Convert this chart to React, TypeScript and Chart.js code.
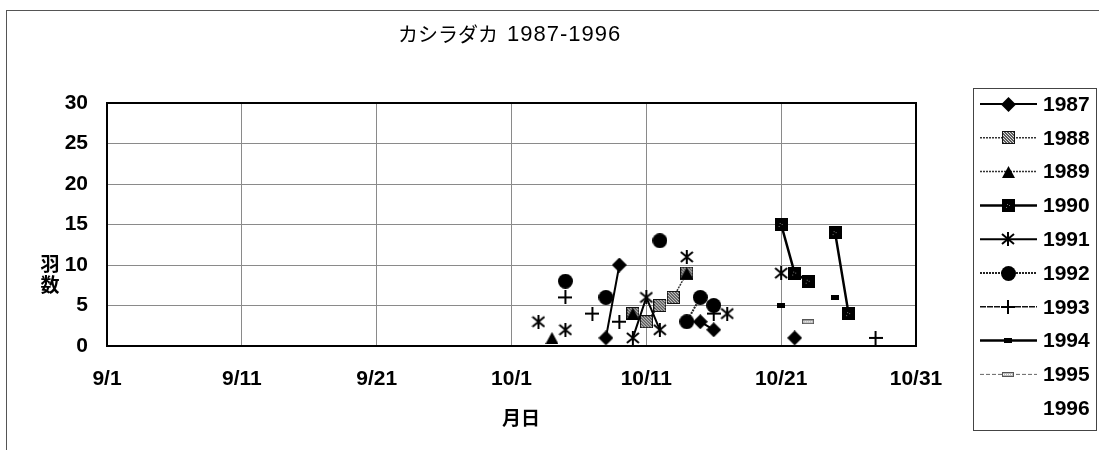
import React, { useEffect, useRef } from 'react';
import { Chart, registerables } from 'chart.js';

Chart.register(...registerables);

// ---------- data ----------
const chartTitleJa = 'カシラダカ';
const chartTitleYears = '1987-1996';
const xAxisTitle = '月日';
const yAxisTitleChars = ['羽', '数'];
const tickLabels = ['9/1', '9/11', '9/21', '10/1', '10/11', '10/21', '10/31'];
const seriesNames = ['1987', '1988', '1989', '1990', '1991', '1992', '1993', '1994', '1995', '1996'];

const dates1987 = ['10/8', '10/9', '10/15', '10/16', '10/22'];
const counts1987 = [1, 10, 3, 2, 1];
const dates1988 = ['10/10', '10/11', '10/12', '10/13', '10/14'];
const counts1988 = [4, 3, 5, 6, 9];
const dates1989 = ['10/4', '10/10', '10/14'];
const counts1989 = [1, 4, 9];
const dates1990 = ['10/21', '10/22', '10/23', '10/25', '10/26'];
const counts1990 = [15, 9, 8, 14, 4];
const dates1991 = ['10/3', '10/5', '10/10', '10/11', '10/12', '10/14', '10/17', '10/21'];
const counts1991 = [3, 2, 1, 6, 2, 11, 4, 9];
const dates1992 = ['10/5', '10/8', '10/12', '10/14', '10/15', '10/16'];
const counts1992 = [8, 6, 13, 3, 6, 5];
const dates1993 = ['10/5', '10/7', '10/9', '10/16', '10/28'];
const counts1993 = [6, 4, 3, 4, 1];
const dates1994 = ['10/21', '10/25'];
const counts1994 = [5, 6];
const dates1995 = ['10/23'];
const counts1995 = [3];
const dates1996: string[] = [];
const counts1996: number[] = [];

const allDates = [dates1987, dates1988, dates1989, dates1990, dates1991, dates1992, dates1993, dates1994, dates1995, dates1996];
const allCounts = [counts1987, counts1988, counts1989, counts1990, counts1991, counts1992, counts1993, counts1994, counts1995, counts1996];

// ---------- helpers ----------
function dayIndex(s: string): number {
  const [m, d] = s.split('/').map(Number);
  return m === 9 ? d - 1 : 30 + d - 1;
}

function buildPoints(dates: string[], counts: number[]) {
  const pts: { x: number; y: number | null }[] = [];
  for (let i = 0; i < dates.length; i++) {
    const x = dayIndex(dates[i]);
    pts.push({ x, y: counts[i] });
    if (i < dates.length - 1 && dayIndex(dates[i + 1]) !== x + 1) {
      pts.push({ x: x + 0.5, y: null });
    }
  }
  return pts;
}

function mk(w: number, h: number, draw: (c: CanvasRenderingContext2D) => void) {
  const c = document.createElement('canvas');
  c.width = w;
  c.height = h;
  const ctx = c.getContext('2d')!;
  draw(ctx);
  return c;
}

function makeMarkers() {
  const diamond = mk(15, 15, (c) => {
    c.fillStyle = '#000';
    c.beginPath();
    c.moveTo(7.5, 0); c.lineTo(15, 7.5); c.lineTo(7.5, 15); c.lineTo(0, 7.5);
    c.closePath(); c.fill();
  });
  const sq88 = mk(13, 13, (c) => {
    c.fillStyle = '#111'; c.fillRect(0, 0, 13, 13);
    c.fillStyle = '#5a5a5a'; c.fillRect(1, 1, 11, 11);
    c.fillStyle = '#e0e0e0';
    for (let y = 1; y < 12; y++) for (let x = 1; x < 12; x++) if ((x + 2 * y) % 3 === 0) c.fillRect(x, y, 1, 1);
  });
  const tri = mk(13, 12, (c) => {
    c.fillStyle = '#000';
    c.beginPath(); c.moveTo(6.5, 0); c.lineTo(13, 12); c.lineTo(0, 12); c.closePath(); c.fill();
  });
  const sq90 = mk(13, 13, (c) => {
    c.fillStyle = '#000'; c.fillRect(0, 0, 13, 13);
    c.fillStyle = '#777';
    c.fillRect(5, 5, 1, 1); c.fillRect(7, 6, 1, 1); c.fillRect(4, 8, 1, 1);
  });
  const ast = mk(14, 14, (c) => {
    c.strokeStyle = '#000'; c.lineWidth = 2;
    c.beginPath();
    c.moveTo(1, 2); c.lineTo(13, 12);
    c.moveTo(13, 2); c.lineTo(1, 12);
    c.moveTo(7, 0); c.lineTo(7, 14);
    c.stroke();
  });
  const circ = mk(15, 15, (c) => {
    c.fillStyle = '#000'; c.beginPath(); c.arc(7.5, 7.5, 7.5, 0, Math.PI * 2); c.fill();
  });
  const plus = mk(14, 14, (c) => {
    c.strokeStyle = '#000'; c.lineWidth = 2;
    c.beginPath(); c.moveTo(0, 7); c.lineTo(14, 7); c.moveTo(7, 0); c.lineTo(7, 14); c.stroke();
  });
  const dash94 = mk(8, 5, (c) => {
    c.fillStyle = '#000'; c.fillRect(0, 0, 8, 5);
  });
  const dash95 = mk(12, 5, (c) => {
    c.fillStyle = '#555'; c.fillRect(0, 0, 12, 5);
    c.fillStyle = '#bbb'; c.fillRect(1, 1, 10, 3);
    c.fillStyle = '#fff';
    for (let x = 1; x < 11; x += 2) c.fillRect(x, 2, 1, 1);
  });
  const none = mk(1, 1, () => {});
  return [diamond, sq88, tri, sq90, ast, circ, plus, dash94, dash95, none];
}

const lineStyles = [
  { color: '#000', width: 2, dash: [] as number[] },
  { color: '#333', width: 1.5, dash: [2, 1] },
  { color: '#333', width: 1.5, dash: [2, 1] },
  { color: '#000', width: 2.5, dash: [] as number[] },
  { color: '#000', width: 2, dash: [] as number[] },
  { color: '#222', width: 2, dash: [2, 1] },
  { color: '#111', width: 1.5, dash: [6, 1] },
  { color: '#000', width: 2.5, dash: [] as number[] },
  { color: '#666', width: 1, dash: [4, 2] },
  { color: 'rgba(0,0,0,0)', width: 0, dash: [] as number[] },
];

const NUM_FONT = '"Liberation Sans", Arial, sans-serif';
const JA_FONT = '"Noto Sans CJK JP", sans-serif';
const PLOT = { left: 107, right: 916, top: 103, bottom: 346 };
const W = 1099;
const H = 450;

export default function App() {
  const ref = useRef<HTMLCanvasElement | null>(null);

  useEffect(() => {
    if (!ref.current) return;
    const markers = makeMarkers();

    const datasets = seriesNames.map((name, i) => ({
      label: name,
      data: buildPoints(allDates[i], allCounts[i]),
      borderColor: lineStyles[i].color,
      borderWidth: lineStyles[i].width,
      borderDash: lineStyles[i].dash,
      pointStyle: markers[i] as any,
      pointRadius: 5,
      pointHoverRadius: 5,
      showLine: true,
      fill: false,
      tension: 0,
      spanGaps: false,
      order: seriesNames.length - i,
    }));

    const decor = {
      id: 'decor',
      beforeDraw(chart: any) {
        const c = chart.ctx as CanvasRenderingContext2D;
        c.save();
        c.fillStyle = '#fff';
        c.fillRect(0, 0, W, H);
        c.strokeStyle = '#555';
        c.lineWidth = 1;
        c.strokeRect(6.5, 10.5, W + 20, H + 20);
        c.restore();
      },
      beforeDatasetsDraw(chart: any) {
        const c = chart.ctx as CanvasRenderingContext2D;
        const a = chart.chartArea;
        c.save();
        c.strokeStyle = '#000';
        c.lineWidth = 2;
        c.strokeRect(a.left, a.top, a.right - a.left, a.bottom - a.top);
        c.restore();
      },
      afterDraw(chart: any) {
        const c = chart.ctx as CanvasRenderingContext2D;
        c.save();
        c.fillStyle = '#000';
        // title
        c.textBaseline = 'middle';
        c.textAlign = 'left';
        c.font = `20px ${JA_FONT}`;
        c.fillText(chartTitleJa, 398, 34);
        c.font = `22px ${NUM_FONT}`;
        (c as any).letterSpacing = '1px';
        c.fillText(chartTitleYears, 507, 35);
        (c as any).letterSpacing = '0px';
        // axis titles
        c.textAlign = 'center';
        c.font = `bold 19px ${JA_FONT}`;
        c.fillText(xAxisTitle, 521, 418);
        yAxisTitleChars.forEach((ch, k) => c.fillText(ch, 50, 264 + k * 21));
        // legend box
        c.strokeStyle = '#444';
        c.lineWidth = 1;
        c.strokeRect(973.5, 88.5, 123, 342);
        seriesNames.forEach((name, i) => {
          const y = 104 + i * 33.8;
          const ls = lineStyles[i];
          if (ls.width > 0) {
            c.strokeStyle = ls.color;
            c.lineWidth = ls.width;
            c.setLineDash(ls.dash);
            c.beginPath();
            c.moveTo(980, y);
            c.lineTo(1037, y);
            c.stroke();
            c.setLineDash([]);
          }
          const m = markers[i];
          if (m.width > 1) c.drawImage(m, Math.round(1008 - m.width / 2), Math.round(y - m.height / 2));
          c.fillStyle = '#000';
          c.font = `bold 21px ${NUM_FONT}`;
          c.textAlign = 'left';
          c.textBaseline = 'middle';
          c.fillText(name, 1043, y + 1);
        });
        c.restore();
      },
    };

    const chart = new Chart(ref.current, {
      type: 'line',
      data: { datasets: datasets as any },
      options: {
        animation: false,
        responsive: false,
        devicePixelRatio: 1,
        layout: { padding: { left: 0, right: W - PLOT.right, top: PLOT.top, bottom: 0 } },
        plugins: { legend: { display: false }, tooltip: { enabled: false }, title: { display: false } },
        scales: {
          x: {
            type: 'linear',
            min: 0,
            max: 60,
            afterFit: (s: any) => { s.height = H - PLOT.bottom; },
            afterBuildTicks: (s: any) => {
              s.ticks = tickLabels.map((_, k) => ({ value: k * 10 }));
            },
            ticks: {
              autoSkip: false,
              maxRotation: 0,
              padding: 21,
              color: '#000',
              font: { family: NUM_FONT, size: 21, weight: 'bold' },
              callback: (v: any) => tickLabels[Math.round(Number(v) / 10)] ?? '',
            },
            grid: { color: '#8a8a8a', lineWidth: 1, drawTicks: false },
            border: { display: false },
          },
          y: {
            min: 0,
            max: 30,
            afterFit: (s: any) => { s.width = PLOT.left; },
            ticks: {
              stepSize: 5,
              padding: 19,
              color: '#000',
              font: { family: NUM_FONT, size: 21, weight: 'bold' },
            },
            grid: { color: '#8a8a8a', lineWidth: 1, drawTicks: false },
            border: { display: false },
          },
        },
      } as any,
      plugins: [decor],
    });
    return () => chart.destroy();
  }, []);

  return (
    <div style={{ position: 'fixed', left: 0, top: 0, width: W, height: H, background: '#fff' }}>
      <canvas ref={ref} width={W} height={H} style={{ width: W, height: H, display: 'block' }} />
    </div>
  );
}
